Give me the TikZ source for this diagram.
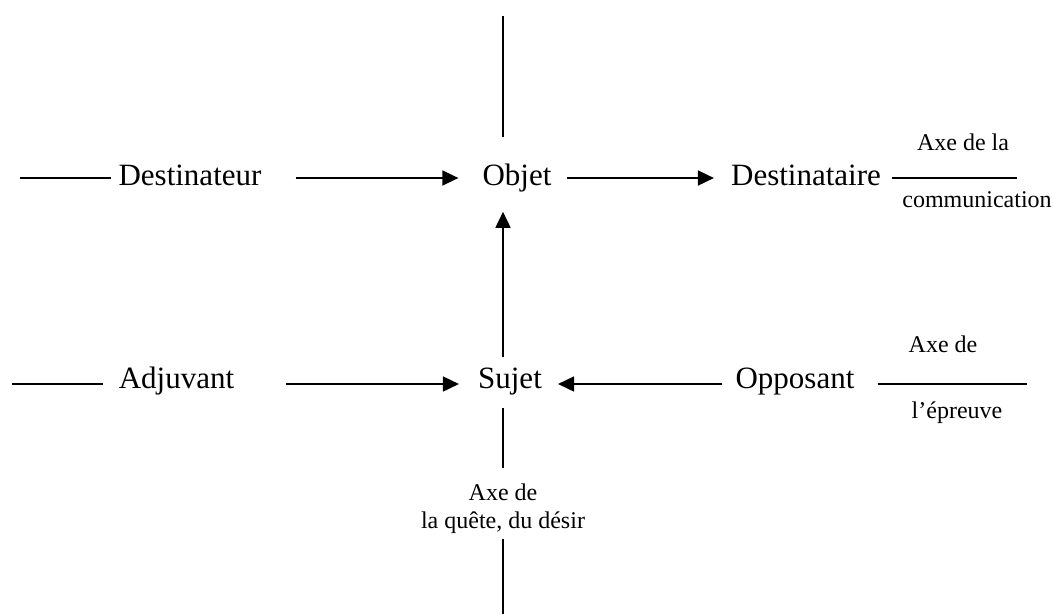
\documentclass[tikz,border=0pt]{standalone}
\usepackage{fontspec}
\setmainfont{Liberation Serif}
\usetikzlibrary{arrows.meta}
\tikzset{
	actant/.style={font=\fontsize{31}{37}\selectfont, inner sep=0pt, anchor=base},
	axe/.style={font=\fontsize{24}{28}\selectfont, inner sep=0pt, align=center},
	trait/.style={line width=2pt},
	fleche/.style={line width=1.7pt, -{Triangle[length=16pt,width=15pt]}},
}

\begin{document}
\begin{tikzpicture}[x=1pt, y=-1pt]
	\useasboundingbox (0,0) rectangle (1053,614);
	\coordinate (ax) at (503,0);

	% actants
	\node[actant] (dest) at (190,185) {Destinateur};
	\node[actant] (obj) at (517,185) {Objet};
	\node[actant] (dsta) at (806,185) {Destinataire};
	\node[actant] (adj) at (176.5,388) {Adjuvant};
	\node[actant] (suj) at (510,388) {Sujet};
	\node[actant] (opp) at (795,388) {Opposant};

	% axe de la communication
	\coordinate (comG) at (20,178);
	\coordinate (comD) at (1017,178);
	\draw[trait, shorten >=7pt] (comG) -- (dest.west |- comG);
	\draw[fleche, shorten <=34pt, shorten >=24pt] (dest.east |- comG) -- (obj.west |- comG);
	\draw[fleche, shorten <=15pt, shorten >=17pt] (obj.east |- comG) -- (dsta.west |- comG);
	\draw[trait, shorten <=11pt] (dsta.east |- comG) -- (comD);
	\node[axe, anchor=base] (com1) at (963,150) {Axe de la};
	\node[axe, anchor=base] (com2) at (977,207) {communication};

	% axe de l'epreuve
	\coordinate (epG) at (12,384);
	\coordinate (epD) at (1027,384);
	\draw[trait, shorten >=16pt] (epG) -- (adj.west |- epG);
	\draw[fleche, shorten <=52pt, shorten >=19pt] (adj.east |- epG) -- (suj.west |- epG);
	\draw[fleche, shorten <=13pt, shorten >=16pt] (opp.west |- epG) -- (suj.east |- epG);
	\draw[trait, shorten <=23pt] (opp.east |- epG) -- (epD);
	\node[axe, anchor=base] (ep1) at (943,352) {Axe de};
	\node[axe, anchor=base] (ep2) at (957,418) {l’épreuve};

	% axe de la quete
	\coordinate (qH) at (503,16);
	\coordinate (qM1) at (503,468);
	\coordinate (qM2) at (503,539);
	\coordinate (qB) at (503,614);
	\draw[trait] (qH) -- (ax |- 0,137);
	\draw[fleche, shorten <=10pt, shorten >=20pt] (suj.north -| ax) -- (obj.south -| ax);
	\node[axe] (quete) at (503,509) {Axe de\\la quête, du désir};
	\draw[trait, shorten <=13pt] (suj.south -| ax) -- (qM1);
	\draw[trait] (qM2) -- (qB);
\end{tikzpicture}
\end{document}
